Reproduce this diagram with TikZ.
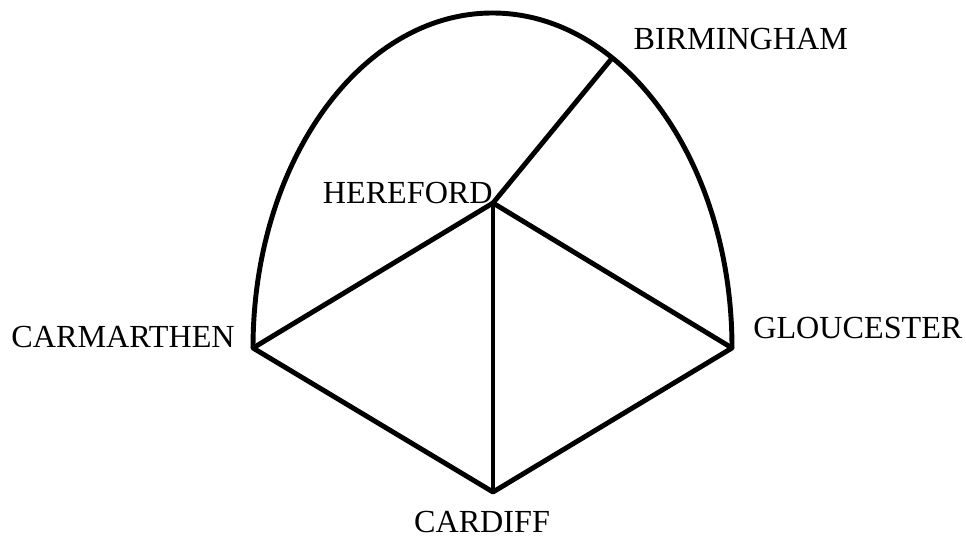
\documentclass[tikz,border=0pt]{standalone}
\usepackage{fontspec}
\setmainfont{Liberation Serif}
\usepackage{tikz}
\usetikzlibrary{ positioning, calc }

\begin{document}
\begin{tikzpicture}[
  every node/.style={font=\fontsize{18.3}{21}\selectfont},
  road/.style={draw=black, line width=2.8pt, line join=round},
  town/.style={coordinate},
  lbl/.style={inner sep=0pt, text=black},
]
  \useasboundingbox (0,0) rectangle (19.32,-10.82);
  % towns
  \node[town] (hereford) at (9.86,-4.06) {};
  \node[town] (carmarthen) at (5.06,-6.96) {};
  \node[town] (gloucester) at (14.64,-6.96) {};
  \node[town] (cardiff) at (9.86,-9.84) {};
  \node[town] (birmingham) at ($(9.85,-6.96)+(60:4.79 and 6.70)$) {};
  % outer arch
  \draw[road] (carmarthen) arc[start angle=180, end angle=0, x radius=4.79, y radius=6.70];
  % roads
  \draw[road] (hereford) -- (birmingham);
  \draw[road] (carmarthen) -- (hereford) -- (gloucester) -- (cardiff) -- cycle;
  \draw[road] (hereford) -- (cardiff);
  % names
  \node[lbl, anchor=base east] (hereford-l) at (hereford) {HEREFORD};
  \node[lbl, anchor=base west] (birmingham-l) at ([shift={(0.42,0.16)}]birmingham) {BIRMINGHAM};
  \node[lbl, anchor=base east] (carmarthen-l) at ([shift={(-0.36,0.02)}]carmarthen) {CARMARTHEN};
  \node[lbl, anchor=base west] (gloucester-l) at ([shift={(0.42,0.20)}]gloucester) {GLOUCESTER};
  \node[lbl, anchor=base] (cardiff-l) at ([shift={(-0.22,-0.80)}]cardiff) {CARDIFF};
\end{tikzpicture}
\end{document}
